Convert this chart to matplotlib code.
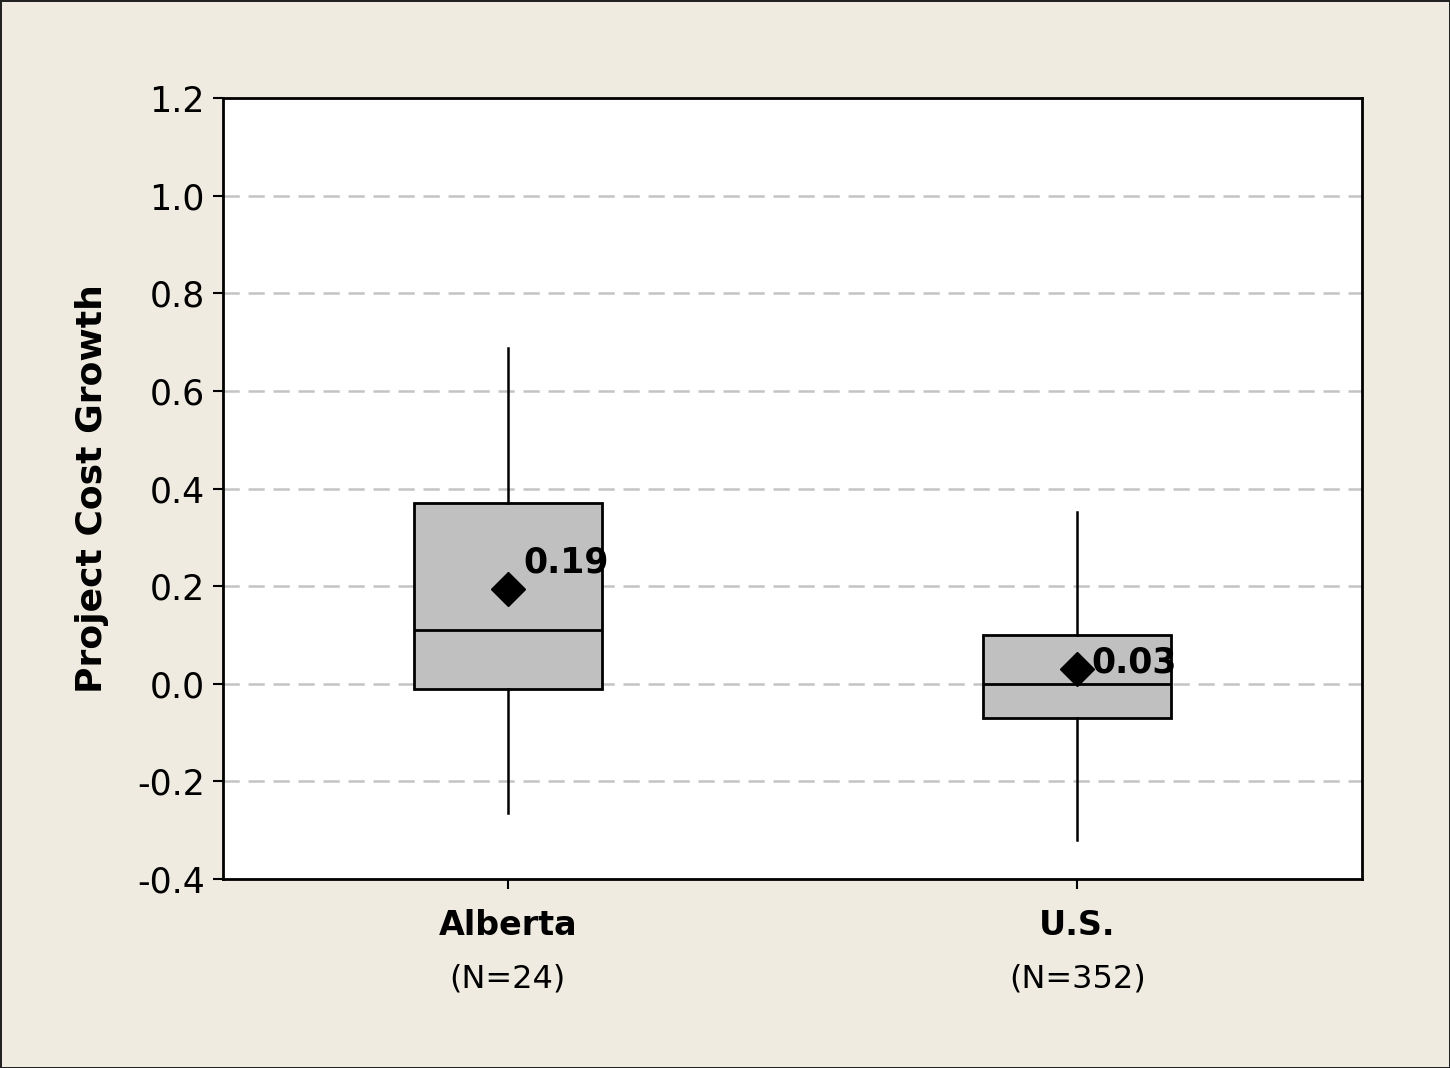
import numpy as np
import matplotlib.pyplot as plt

# data
groups = ['Alberta', 'U.S.']
n_labels = ['(N=24)', '(N=352)']
q1 = [-0.01, -0.07]
median = [0.11, 0.0]
q3 = [0.37, 0.10]
whislo = [-0.265, -0.32]
whishi = [0.688, 0.352]
means = [0.194, 0.03]
mean_labels = ['0.19', '0.03']

yticks = [-0.4, -0.2, 0.0, 0.2, 0.4, 0.6, 0.8, 1.0, 1.2]

plt.rcParams['font.family'] = ['DejaVu Sans']

fig = plt.figure(figsize=(14.5, 10.68), dpi=100)
fig.patch.set_facecolor('#EFEBE1')
fig.patch.set_edgecolor('#222222')
fig.patch.set_linewidth(2)
ax = fig.add_axes([0.1538, 0.177, 0.7855, 0.7312])

stats = []
for i in range(len(groups)):
    stats.append({'label': groups[i], 'q1': q1[i], 'med': median[i], 'q3': q3[i],
                  'whislo': whislo[i], 'whishi': whishi[i], 'fliers': []})

pos = [1, 2]
ax.bxp(stats, positions=pos, widths=0.33, showfliers=False, showcaps=False,
       patch_artist=True,
       boxprops=dict(facecolor='#C0C0C0', edgecolor='black', linewidth=2),
       medianprops=dict(color='black', linewidth=2),
       whiskerprops=dict(color='black', linewidth=1.8))

ax.plot(pos, means, linestyle='none', marker='D', color='black', markersize=17, zorder=5)

offsets = [(11, 19), (10, 5)]
for i in range(len(groups)):
    ax.annotate(mean_labels[i], (pos[i], means[i]), xytext=offsets[i], textcoords='offset points',
                fontsize=25, fontweight='bold', ha='left', va='center', zorder=6)

ax.set_xlim(0.5, 2.5)
ax.set_ylim(-0.4, 1.2)
ax.set_yticks(yticks)
ax.set_yticklabels(['%.1f' % v for v in yticks])
for v in yticks[1:-1]:
    ax.axhline(v, color='#C4C4C4', linestyle=(0, (6.5, 3.5)), linewidth=1.8, zorder=0)

ax.set_xticks(pos)
ax.set_xticklabels([])
for i in range(len(groups)):
    ax.text(pos[i], -0.059, groups[i], transform=ax.get_xaxis_transform(),
            ha='center', va='center', fontsize=24, fontweight='bold')
    ax.text(pos[i], -0.128, n_labels[i], transform=ax.get_xaxis_transform(),
            ha='center', va='center', fontsize=23)

ax.tick_params(axis='y', labelsize=25, length=7, width=1.5, pad=6)
ax.tick_params(axis='x', length=7, width=1.5)
for s in ax.spines.values():
    s.set_linewidth(2)

ax.set_ylabel('Project Cost Growth', fontsize=26, fontweight='bold', labelpad=20)

fig.savefig('out.png', dpi=100, facecolor=fig.get_facecolor(), edgecolor=fig.get_edgecolor())
